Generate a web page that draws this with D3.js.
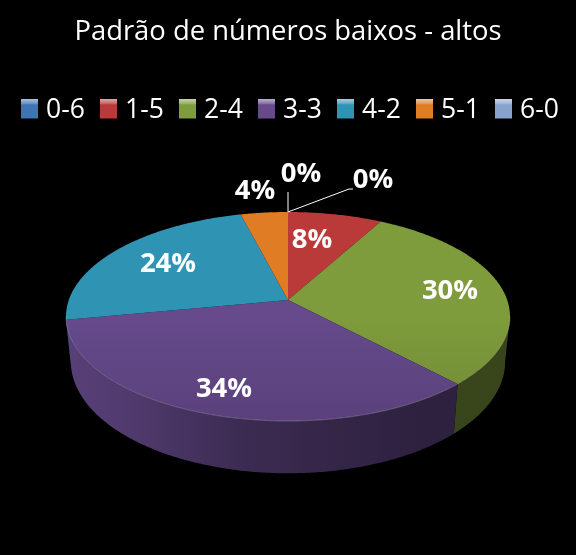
<!DOCTYPE html>
<html><head><meta charset="utf-8">
<script src="https://cdn.jsdelivr.net/npm/d3@7/dist/d3.min.js"></script>
<style>html,body{margin:0;padding:0;background:#000}svg{display:block;filter:blur(0.35px)}text{font-family:"Open Sans",Lato,sans-serif;fill:#fff}</style>
</head><body><svg id="c" width="576" height="555"></svg>
<script>
const title = "Padrão de números baixos - altos";
const categories = ["0-6","1-5","2-4","3-3","4-2","5-1","6-0"];
const values = [0,8,30,34,24,4,0];
const labels = ["0%","8%","30%","34%","24%","4%","0%"];
const colors = ["#3f74b4","#b93a38","#7f9c3c","#664a8c","#2f94b4","#e07c24","#87a2cc"];
const labelAnchors = [[373,178],[312,238],[450,289],[224,387],[168,262],[255,189],[301,172]];

const W=576,H=555,cx=288,cy=300,A=219.2,B=101.9,P=0.158,DEPTH=44,NARROW=0.022;
const svg=d3.select("#c");
svg.append("rect").attr("width",W).attr("height",H).attr("fill","#000");
const defs=svg.append("defs");

// perspective projection of the unit disc
const proj=(a,r=1,z=0)=>{
  const u=r*Math.sin(a),v=-r*Math.cos(a),d=1-P*v;
  return [cx+A*u/d*(1-NARROW*z), cy+(B*v+z*DEPTH)/d];
};
const arcs=d3.pie().sort(null).value(d=>d)(values);
const steps=(s,e)=>{const n=Math.max(2,Math.ceil((e-s)/0.01));return d3.range(n+1).map(i=>s+(e-s)*i/n);};
const line=d3.line();
const shade=(c,k)=>d3.rgb(c.r*k,c.g*k,c.b*k).formatHex();
const frontStart=Math.PI-Math.acos(P), frontEnd=Math.PI+Math.acos(P);

// side wall (only the part facing the viewer)
arcs.forEach((d,i)=>{
  const s=Math.max(d.startAngle,frontStart), e=Math.min(d.endAngle,frontEnd);
  if(e<=s) return;
  const c=d3.rgb(colors[i]);
  const id="w"+i;
  const g=defs.append("linearGradient").attr("id",id).attr("gradientUnits","userSpaceOnUse")
    .attr("x1",66).attr("x2",510).attr("y1",0).attr("y2",0);
  [[0,0.86],[0.15,0.78],[0.4,0.58],[0.8,0.45],[1,0.44]].forEach(([o,k])=>g.append("stop").attr("offset",o).attr("stop-color",shade(c,k)));
  const t=steps(s,e);
  const pts=t.map(a=>proj(a)).concat(t.slice().reverse().map(a=>proj(a,1,1)));
  svg.append("path").attr("d",line(pts)+"Z").attr("fill",`url(#${id})`);
});

// top faces
arcs.forEach((d,i)=>{
  if(d.endAngle<=d.startAngle) return;
  const c=d3.rgb(colors[i]);
  const id="t"+i;
  const g=defs.append("linearGradient").attr("id",id).attr("gradientUnits","userSpaceOnUse")
    .attr("x1",0).attr("x2",0).attr("y1",212).attr("y2",421);
  [[0,1.0],[0.5,1.0],[1,0.88]].forEach(([o,k])=>g.append("stop").attr("offset",o).attr("stop-color",shade(c,k)));
  const pts=[proj(0,0)].concat(steps(d.startAngle,d.endAngle).map(a=>proj(a)));
  svg.append("path").attr("d",line(pts)+"Z").attr("fill",`url(#${id})`);
});

// soft highlight along the front rim
svg.append("path").attr("d",line(steps(frontStart,frontEnd).map(a=>proj(a))))
  .attr("fill","none").attr("stroke","#fff").attr("stroke-opacity",0.22).attr("stroke-width",1);

// leader lines for the two empty slices
const rimTop=proj(0);
[[[rimTop[0],192]],[[349,189],[353,189]]].forEach(seg=>{
  svg.append("path").attr("d",line([rimTop,...seg])).attr("fill","none").attr("stroke","#fff").attr("stroke-width",1);
});

// data labels
labels.forEach((t,i)=>{
  svg.append("text").attr("x",labelAnchors[i][0]).attr("y",labelAnchors[i][1]).attr("dy","0.36em")
    .attr("text-anchor","middle").attr("font-size",27.5).attr("font-weight",700).text(t);
});

// title
svg.append("text").attr("x",288).attr("y",39.5).attr("text-anchor","middle").attr("font-size",27.4).text(title);

// legend
const lg=defs.append("linearGradient").attr("id","sheen").attr("x1",0).attr("x2",0).attr("y1",0).attr("y2",1);
[[0,0.55],[0.22,0.25],[0.3,0],[1,0]].forEach(([o,a])=>lg.append("stop").attr("offset",o).attr("stop-color","#fff").attr("stop-opacity",a));
const legendX=d3.scaleLinear().domain([0,categories.length-1]).range([21,495]);
categories.forEach((c,i)=>{
  const x=legendX(i);
  svg.append("rect").attr("x",x).attr("y",99).attr("width",17).attr("height",19.5).attr("fill",colors[i]);
  svg.append("rect").attr("x",x).attr("y",99).attr("width",17).attr("height",19.5).attr("fill","url(#sheen)");
  svg.append("text").attr("x",x+25).attr("y",117.5).attr("font-size",26.5).text(c);
});
</script></body></html>
